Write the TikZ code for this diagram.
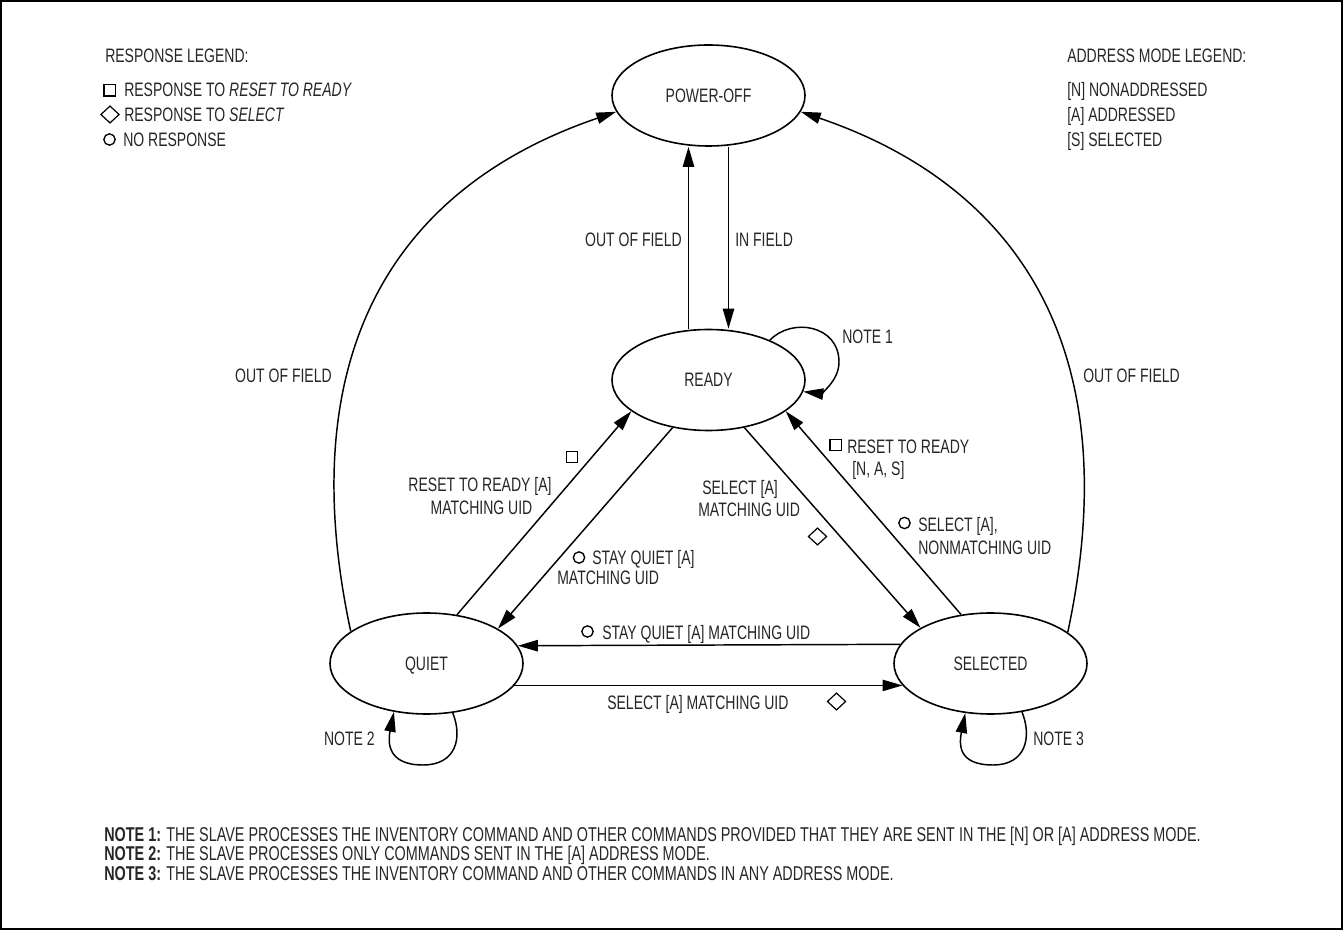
\documentclass[tikz,border=0pt]{standalone}
\usepackage{fontspec}
\setmainfont{Liberation Sans}[FakeStretch=0.72]
\usetikzlibrary{shapes.geometric,arrows.meta,calc}
\begin{document}
\begin{tikzpicture}[x=0.75pt,y=-0.75pt,
  txt/.style={inner sep=0pt,text height=10.5pt,text depth=0pt,text=black!85,
    font=\fontsize{14.6pt}{17pt}\selectfont},
  notetxt/.style={txt,text height=10.8pt,font=\fontsize{15pt}{17pt}\selectfont},
  state/.style={ellipse,draw,line width=1.2pt,minimum width=144.75pt,minimum height=75.75pt,
    inner sep=0pt,txt},
  arr/.style={draw,line width=1.1pt,-{Triangle[length=15pt,width=8.5pt]}},
  sq/.style={draw,line width=1pt,rectangle,minimum width=8.5pt,minimum height=8.5pt,inner sep=0pt},
  dm/.style={draw,line width=0.9pt,diamond,minimum width=14pt,minimum height=13pt,inner sep=0pt},
  cr/.style={draw,line width=1pt,circle,minimum size=8.5pt,inner sep=0pt}]
\useasboundingbox (0,0) rectangle (1343,930);
\draw[line width=1pt] (1,1) rectangle (1342,929);

% states
\node[state] (poweroff) at (708.5,95.5) {POWER-OFF};
\node[state] (ready) at (708.5,380) {READY};
\node[state] (quiet) at (426.5,663.5) {QUIET};
\node[state] (selected) at (990.5,663.5) {SELECTED};

% legends
\node[txt,anchor=west] (rl) at (105,56) {RESPONSE LEGEND:};
\node[sq] (rl1s) at (109.5,90.5) {};
\node[txt,anchor=west] (rl1) at (124,90) {RESPONSE TO \textit{RESET TO READY}};
\node[dm] (rl2s) at (110,114.5) {};
\node[txt,anchor=west] (rl2) at (124,114.5) {RESPONSE TO \textit{SELECT}};
\node[cr] (rl3s) at (109.5,139.5) {};
\node[txt,anchor=west] (rl3) at (123,139.5) {NO RESPONSE};

\node[txt,anchor=west] (al) at (1067,56) {ADDRESS MODE LEGEND:};
\node[txt,anchor=west] (al1) at (1067,89.5) {[N] NONADDRESSED};
\node[txt,anchor=west] (al2) at (1067,115) {[A] ADDRESSED};
\node[txt,anchor=west] (al3) at (1067,140) {[S] SELECTED};

% power-off <-> ready
\draw[arr] ($(ready.north)+(-20,0)$) -- ($(poweroff.south)+(-20,0)$);
\draw[arr] ($(poweroff.south)+(20,0)$) -- ($(ready.north)+(20,0)$);
\node[txt,anchor=east] (oofm) at (682,240) {OUT OF FIELD};
\node[txt,anchor=west] (inf) at (735,240) {IN FIELD};

% out of field arcs
\draw[arr] (quiet.157.6) .. controls +(-60,-280) and +(-220,75) .. (poweroff.190);
\draw[arr] (selected.22.4) .. controls +(60,-280) and +(220,75) .. (poweroff.-10);
\node[txt,anchor=east] (oofl) at (332,376) {OUT OF FIELD};
\node[txt,anchor=west] (oofr) at (1083,376) {OUT OF FIELD};

% diagonals
\draw[arr] (quiet.58.7) -- (ready.202.6);
\draw[arr] (ready.233) -- (quiet.26.4);
\draw[arr] (ready.-53) -- (selected.153.6);
\draw[arr] (selected.121.3) -- (ready.-22.6);

% horizontals
\draw[arr] (selected.168.7) -- (quiet.11.3);
\draw[arr] (quiet.-14.6) -- (selected.194.6);

% loops
\coordinate (n1c) at (839,362);
\draw[arr] (ready.33.3) .. controls +(22,-23) and +(0,-37) .. (n1c) .. controls +(0,20) and +(16,2) .. (ready.-7.9);
\coordinate (n2b) at (423,765);
\draw[arr] (quiet.-62.7) .. controls +(10,25) and +(33,0) .. (n2b) .. controls +(-36,0) and +(-6,30) .. (quiet.-124);
\coordinate (n3b) at (993,765);
\draw[arr] (selected.-57.7) .. controls +(10,25) and +(33,0) .. (n3b) .. controls +(-36,0) and +(-6,30) .. (selected.-117.3);
\node[txt,anchor=west] (note1) at (842,337) {NOTE 1};
\node[txt,anchor=east] (note2) at (375,738) {NOTE 2};
\node[txt,anchor=west] (note3) at (1033,738) {NOTE 3};

% left diagonal labels
\node[sq] (s1) at (572,457) {};
\node[txt] (l1a) at (480,485) {RESET TO READY [A]};
\node[txt] (l1b) at (481.5,507) {MATCHING UID};
\node[cr] (c1) at (579,557.5) {};
\node[txt,anchor=west] (l2a) at (592,557) {STAY QUIET [A]};
\node[txt,anchor=west] (l2b) at (557,578) {MATCHING UID};

% middle / right labels
\node[txt,anchor=west] (l3a) at (702,488) {SELECT [A]};
\node[txt,anchor=west] (l3b) at (698,510) {MATCHING UID};
\node[dm] (d1) at (817.5,536.5) {};
\node[sq] (s2) at (835.5,445) {};
\node[txt,anchor=west] (l4a) at (847,447) {RESET TO READY};
\node[txt,anchor=west] (l4b) at (852,469) {[N, A, S]};
\node[cr] (c2) at (904.5,523) {};
\node[txt,anchor=west] (l5a) at (918,524.5) {SELECT [A],};
\node[txt,anchor=west] (l5b) at (918,547) {NONMATCHING UID};

% horizontal labels
\node[cr] (c3) at (587.5,631.5) {};
\node[txt,anchor=west] (l6) at (602,632) {STAY QUIET [A] MATCHING UID};
\node[txt,anchor=west] (l7) at (607,702) {SELECT [A] MATCHING UID};
\node[dm] (d2) at (836.5,701.5) {};

% notes
\node[notetxt,anchor=west] (nt1) at (104,834) {\textbf{NOTE 1:} THE SLAVE PROCESSES THE INVENTORY COMMAND AND OTHER COMMANDS PROVIDED THAT THEY ARE SENT IN THE [N] OR [A] ADDRESS MODE.};
\node[notetxt,anchor=west] (nt2) at (104,853.5) {\textbf{NOTE 2:} THE SLAVE PROCESSES ONLY COMMANDS SENT IN THE [A] ADDRESS MODE.};
\node[notetxt,anchor=west] (nt3) at (104,873) {\textbf{NOTE 3:} THE SLAVE PROCESSES THE INVENTORY COMMAND AND OTHER COMMANDS IN ANY ADDRESS MODE.};
\end{tikzpicture}
\end{document}
